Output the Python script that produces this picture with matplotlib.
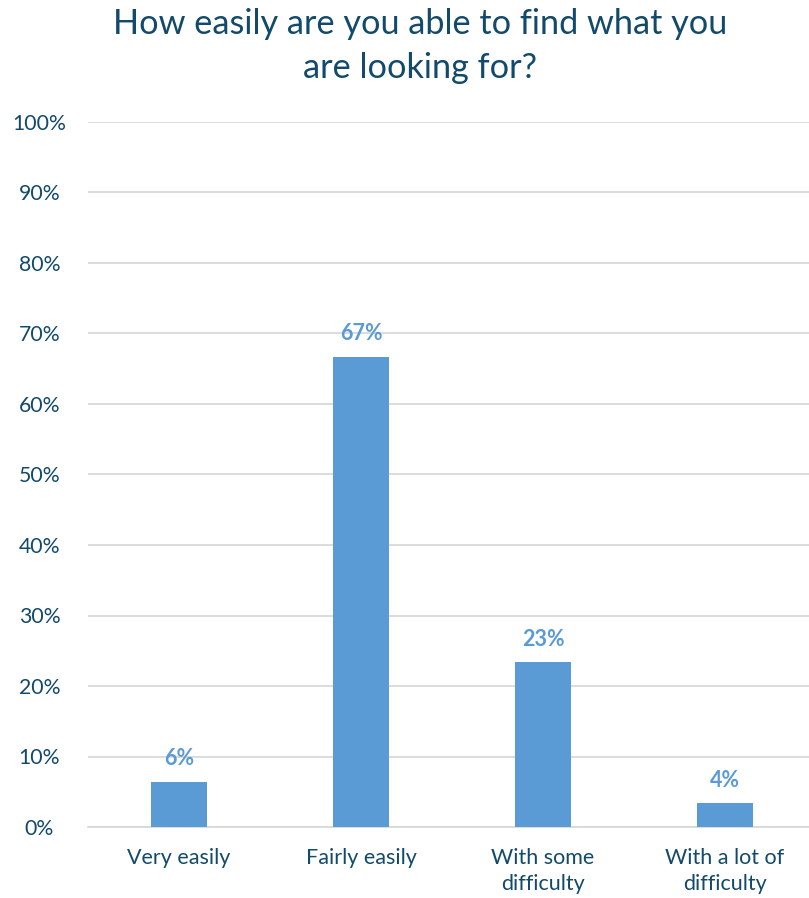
import numpy as np
import matplotlib.pyplot as plt

categories = ['Very easily', 'Fairly easily', 'With some\ndifficulty', 'With a lot of\ndifficulty']
values = [6.4, 66.7, 23.4, 3.4]
labels = ['6%', '67%', '23%', '4%']
yticks = [0, 10, 20, 30, 40, 50, 60, 70, 80, 90, 100]

plt.rcParams['font.family'] = ['Lato', 'DejaVu Sans']
txt = '#124A6B'
bar_col = '#5B9BD5'

W, H = 809, 898
fig = plt.figure(figsize=(W / 100, H / 100), dpi=100)
ax = fig.add_axes([88 / W, 1 - 827 / H, 728 / W, 705 / H])

x = np.arange(len(categories))
ax.bar(x, values, width=0.31, color=bar_col, zorder=3)
for xi, v, lab in zip(x, values, labels):
    ax.annotate(lab, (xi, v), xytext=(0, 9), textcoords='offset points',
                ha='center', va='bottom', color=bar_col, fontsize=15.5, fontweight='bold')

ax.set_xlim(-0.5, 3.5)
ax.set_ylim(0, 100)
ax.set_yticks(yticks)
ax.set_yticklabels([f'{t}%' for t in yticks])
ax.set_xticks(x)
ax.set_xticklabels(categories, linespacing=1.4)
ax.tick_params(axis='y', length=0, pad=35, labelsize=15.3, labelcolor=txt)
ax.tick_params(axis='x', length=0, pad=15, labelsize=15.5, labelcolor=txt)
for lbl in ax.get_yticklabels():
    lbl.set_horizontalalignment('center')
ax.grid(axis='y', color='#D9D9D9', linewidth=1.3, zorder=0)
for s in ['top', 'right', 'left']:
    ax.spines[s].set_visible(False)
ax.spines['bottom'].set_color('#D9D9D9')
ax.spines['bottom'].set_linewidth(1.3)

fig.text(420 / W, 1 - 46 / H, 'How easily are you able to find what you\nare looking for?',
         ha='center', va='center', fontsize=24.7, color=txt, linespacing=1.5)

fig.savefig('out.png', dpi=100)
